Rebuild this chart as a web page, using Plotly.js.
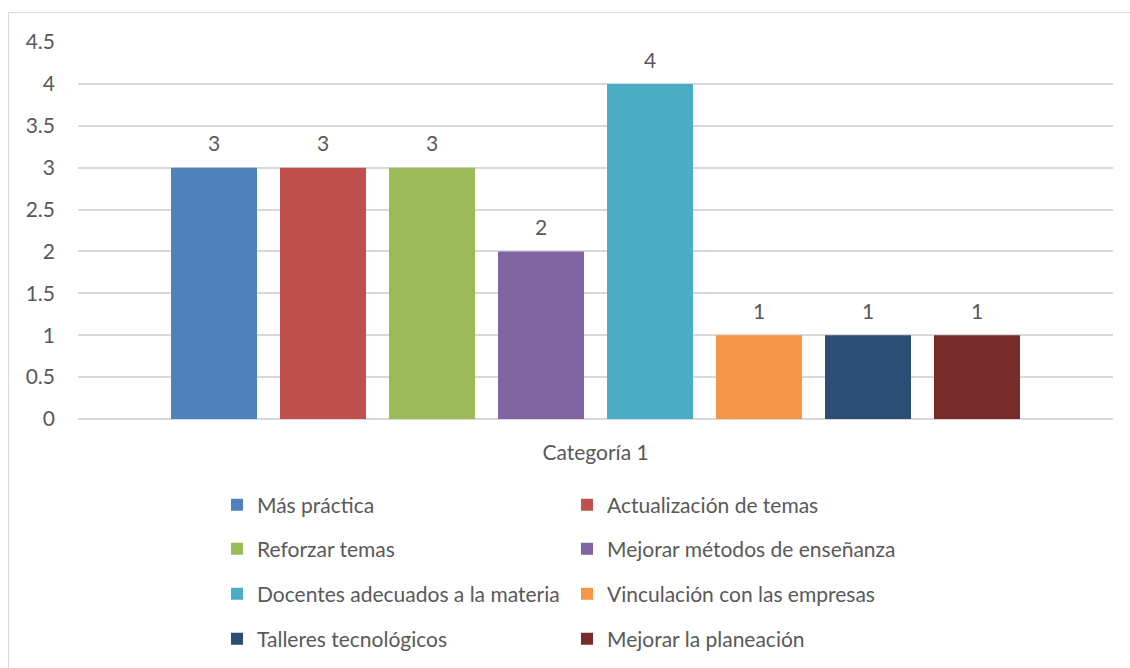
<!DOCTYPE html>
<html>
<head>
<meta charset="utf-8">
<script src="https://cdn.plot.ly/plotly-3.0.1.min.js"></script>
<style>
  html, body { margin: 0; padding: 0; background: #fff; }
  #frame { position: absolute; left: 8px; top: 12px; width: 1140px; height: 680px; border: 1.5px solid #D9D9D9; box-sizing: border-box; }
  #chart { position: absolute; left: 0; top: 0; width: 1130px; height: 668px; }
</style>
</head>
<body>
<div id="frame"></div>
<div id="chart"></div>
<script>
const categories = ["Categoría 1"];
const seriesNames = [
  "Más práctica",
  "Actualización de temas",
  "Reforzar temas",
  "Mejorar métodos de enseñanza",
  "Docentes adecuados a la materia",
  "Vinculación con las empresas",
  "Talleres tecnológicos",
  "Mejorar la planeación"
];
const seriesValues = [3, 3, 3, 2, 4, 1, 1, 1];
const seriesColors = ["#4F81BD", "#C0504D", "#9BBB59", "#8064A2", "#4BACC6", "#F79646", "#2C4D75", "#772C2A"];
const yTickVals = [0, 0.5, 1, 1.5, 2, 2.5, 3, 3.5, 4, 4.5];
const yTickText = ["0", "0.5", "1", "1.5", "2", "2.5", "3", "3.5", "4", "4.5"];

const FONT = "Lato, 'Open Sans', sans-serif";
const FS = 21;
const TXT = "#595959";
const legendIds = ["legend", "legend2", "legend3", "legend4"];

const traces = [];
seriesNames.forEach((name, i) => {
  traces.push({
    type: "bar",
    name: name,
    x: categories,
    y: [seriesValues[i]],
    offsetgroup: "g" + i,
    marker: { color: seriesColors[i] },
    legend: legendIds[Math.floor(i / 2)],
    hoverinfo: "name+y"
  });
});
seriesNames.forEach((name, i) => {
  traces.push({
    type: "scatter",
    mode: "markers+text",
    name: name + " (label)",
    x: categories,
    y: [seriesValues[i]],
    offsetgroup: "g" + i,
    text: [String(seriesValues[i])],
    textposition: "top center",
    textfont: { family: FONT, size: FS, color: TXT },
    marker: { size: 16, opacity: 0 },
    showlegend: false,
    hoverinfo: "skip",
    cliponaxis: false
  });
});

const plotTop = 42, plotBottom = 419;
function py(p) { return (plotBottom - p) / (plotBottom - plotTop); }
const rowsY = [505, 549, 594, 639];
const legendX = (217 - 78) / 1035;

const layout = {
  width: 1130,
  height: 668,
  margin: { l: 78, r: 17, t: 42, b: 249, autoexpand: false },
  paper_bgcolor: "rgba(0,0,0,0)",
  plot_bgcolor: "rgba(0,0,0,0)",
  font: { family: FONT, size: FS, color: TXT },
  barmode: "group",
  bargap: 0.1575,
  bargroupgap: 0.211,
  scattermode: "group",
  scattergap: 0.1575,
  xaxis: {
    type: "category",
    showgrid: false,
    showline: false,
    zeroline: false,
    ticks: "",
    ticklabelstandoff: 19,
    tickfont: { family: FONT, size: FS, color: TXT },
    fixedrange: true
  },
  yaxis: {
    range: [0, 4.5],
    tickvals: yTickVals,
    ticktext: yTickText,
    showgrid: true,
    gridcolor: "#D9D9D9",
    gridwidth: 1.5,
    zeroline: true,
    zerolinecolor: "#D9D9D9",
    zerolinewidth: 1.5,
    showline: false,
    ticks: "",
    ticklabelstandoff: 22,
    tickfont: { family: FONT, size: FS, color: TXT },
    fixedrange: true
  },
  showlegend: true
};
legendIds.forEach((id, k) => {
  layout[id] = {
    orientation: "h",
    x: legendX,
    xanchor: "left",
    y: py(rowsY[k]),
    yanchor: "middle",
    entrywidth: 305,
    entrywidthmode: "pixels",
    font: { family: FONT, size: FS, color: TXT },
    bgcolor: "rgba(0,0,0,0)",
    traceorder: "normal",
    itemclick: false,
    itemdoubleclick: false
  };
});

Plotly.newPlot("chart", traces, layout, { displayModeBar: false });
</script>
</body>
</html>
